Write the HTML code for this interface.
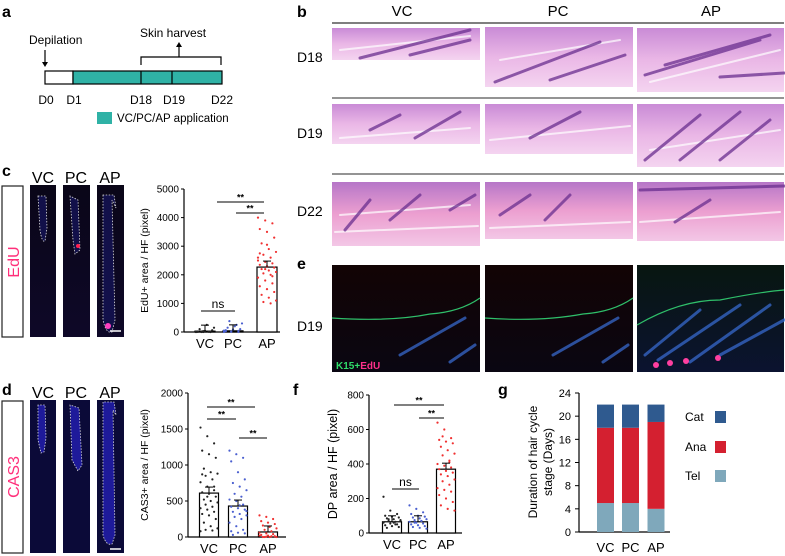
<!DOCTYPE html>
<html><head><meta charset="utf-8"><style>
body{margin:0;background:#fff;}
svg{display:block;font-family:"Liberation Sans",Arial,sans-serif;}
</style></head><body>
<svg id="fig" width="785" height="556" viewBox="0 0 785 556" xmlns="http://www.w3.org/2000/svg">
<defs>
<linearGradient id="he1" x1="0" y1="0" x2="0" y2="1"><stop offset="0" stop-color="#c98bd6"/><stop offset="0.5" stop-color="#eab7e6"/><stop offset="1" stop-color="#f4d4f0"/></linearGradient>
<linearGradient id="he3" x1="0" y1="0" x2="0" y2="1"><stop offset="0" stop-color="#b676c8"/><stop offset="0.5" stop-color="#ec9fd0"/><stop offset="1" stop-color="#f3c7e6"/></linearGradient>
<linearGradient id="fl" x1="0" y1="0" x2="0" y2="1"><stop offset="0" stop-color="#120404"/><stop offset="1" stop-color="#0a0612"/></linearGradient>
<linearGradient id="fl2" x1="0" y1="0" x2="0" y2="1"><stop offset="0" stop-color="#081610"/><stop offset="1" stop-color="#0b1330"/></linearGradient>
<linearGradient id="micro" x1="0" y1="0" x2="0" y2="1"><stop offset="0" stop-color="#0a0618"/><stop offset="1" stop-color="#0e0828"/></linearGradient>
</defs>

<!-- panel a -->
<g>
<text x="2" y="17" font-size="16" font-weight="bold">a</text>
<text x="29" y="44" font-size="12">Depilation</text>
<line x1="45" y1="50" x2="45" y2="64" stroke="#000" stroke-width="1.2"/>
<polygon points="42,62 48,62 45,67" fill="#000"/>
<text x="140" y="37" font-size="12">Skin harvest</text>
<polyline points="141,65 141,57 221,57 221,65" fill="none" stroke="#000" stroke-width="1.2"/>
<line x1="179" y1="57" x2="179" y2="46" stroke="#000" stroke-width="1.2"/>
<polygon points="176,47 182,47 179,42" fill="#000"/>
<rect x="45" y="71" width="28" height="13" fill="#fff" stroke="#000" stroke-width="1.2"/>
<rect x="73" y="71" width="149" height="13" fill="#2fb2a6" stroke="#000" stroke-width="1.2"/>
<line x1="141" y1="71" x2="141" y2="84" stroke="#000" stroke-width="1.2"/>
<line x1="172" y1="71" x2="172" y2="84" stroke="#000" stroke-width="1.2"/>
<g font-size="12" text-anchor="middle">
<text x="46" y="104">D0</text><text x="74" y="104">D1</text><text x="141" y="104">D18</text><text x="174" y="104">D19</text><text x="222" y="104">D22</text>
</g>
<rect x="97" y="112" width="15" height="12" fill="#2fb2a6"/>
<text x="117" y="122" font-size="11.5">VC/PC/AP application</text>
</g>

<!-- panel b -->
<g>
<text x="297" y="17" font-size="16" font-weight="bold">b</text>
<g font-size="15" text-anchor="middle"><text x="402" y="16">VC</text><text x="558" y="16">PC</text><text x="711" y="16">AP</text></g>
<line x1="332" y1="23" x2="784" y2="23" stroke="#333" stroke-width="1.2"/>
<line x1="332" y1="98" x2="784" y2="98" stroke="#555" stroke-width="1.2"/>
<line x1="332" y1="174" x2="784" y2="174" stroke="#555" stroke-width="1.2"/>
<g font-size="14"><text x="297" y="62">D18</text><text x="297" y="138">D19</text><text x="297" y="216">D22</text></g>
<rect x="332" y="28" width="148" height="32" fill="url(#he1)"/>
<rect x="485" y="27" width="148" height="60" fill="url(#he1)"/>
<rect x="637" y="28" width="147" height="64" fill="url(#he1)"/>
<rect x="332" y="104" width="148" height="40" fill="url(#he1)"/>
<rect x="485" y="104" width="148" height="50" fill="url(#he1)"/>
<rect x="637" y="104" width="147" height="63" fill="url(#he1)"/>
<rect x="332" y="182" width="148" height="64" fill="url(#he3)"/>
<rect x="485" y="182" width="148" height="57" fill="url(#he3)"/>
<rect x="637" y="182" width="147" height="59" fill="url(#he3)"/>
<g stroke="#fff" stroke-width="2" stroke-linecap="round" opacity="0.7">
<line x1="340" y1="50" x2="470" y2="36"/><line x1="500" y1="60" x2="620" y2="40"/><line x1="650" y1="82" x2="780" y2="50"/>
<line x1="340" y1="138" x2="470" y2="128"/><line x1="490" y1="140" x2="630" y2="126"/><line x1="650" y1="150" x2="780" y2="130"/>
<line x1="335" y1="232" x2="478" y2="226"/><line x1="340" y1="215" x2="470" y2="205"/><line x1="490" y1="228" x2="630" y2="222"/><line x1="640" y1="222" x2="780" y2="212"/>
</g>
<g stroke="#6a2f8f" stroke-width="3" stroke-linecap="round" opacity="0.75">
<line x1="360" y1="58" x2="470" y2="30"/><line x1="410" y1="55" x2="470" y2="40"/>
<line x1="495" y1="82" x2="600" y2="42"/><line x1="550" y1="80" x2="625" y2="55"/>
<line x1="645" y1="75" x2="760" y2="40"/><line x1="665" y1="65" x2="770" y2="35"/><line x1="720" y1="77" x2="784" y2="73"/>
<line x1="370" y1="130" x2="400" y2="115"/><line x1="415" y1="138" x2="460" y2="112"/>
<line x1="530" y1="138" x2="580" y2="112"/>
<line x1="645" y1="160" x2="700" y2="115"/><line x1="680" y1="160" x2="740" y2="112"/><line x1="720" y1="160" x2="770" y2="120"/>
<line x1="345" y1="230" x2="370" y2="200"/><line x1="390" y1="220" x2="420" y2="195"/><line x1="450" y1="210" x2="475" y2="195"/>
<line x1="500" y1="215" x2="530" y2="195"/><line x1="545" y1="220" x2="570" y2="195"/>
<line x1="675" y1="222" x2="710" y2="200"/><line x1="640" y1="190" x2="784" y2="186"/>
</g>
</g>

<!-- panel e -->
<g>
<text x="297" y="269" font-size="16" font-weight="bold">e</text>
<text x="297" y="331" font-size="14">D19</text>
<rect x="332" y="265" width="148" height="107" fill="url(#fl)"/>
<rect x="485" y="265" width="148" height="107" fill="url(#fl)"/>
<rect x="637" y="265" width="147" height="107" fill="url(#fl2)"/>
<g fill="none" stroke="#2fbf6a" stroke-width="1.2">
<path d="M332,318 Q390,322 430,314 Q460,312 480,298"/>
<path d="M485,318 Q540,322 583,314 Q613,312 633,298"/>
<path d="M637,325 Q680,300 720,300 Q760,292 784,290"/>
</g>
<g stroke="#3a6fd8" stroke-width="3" stroke-linecap="round" opacity="0.7">
<line x1="400" y1="355" x2="465" y2="318"/><line x1="450" y1="362" x2="475" y2="345"/>
<line x1="553" y1="355" x2="618" y2="318"/><line x1="603" y1="362" x2="628" y2="345"/>
<line x1="645" y1="355" x2="700" y2="310"/><line x1="658" y1="360" x2="740" y2="305"/><line x1="690" y1="362" x2="770" y2="305"/><line x1="720" y1="355" x2="784" y2="320"/>
</g>
<g fill="#ff3fa0"><circle cx="656" cy="365" r="3"/><circle cx="670" cy="363" r="3"/><circle cx="686" cy="361" r="3"/><circle cx="718" cy="358" r="3"/></g>
<text x="336" y="369" font-size="10" font-weight="bold" fill="#2fdc6a">K15+<tspan fill="#ff2f8a">EdU</tspan></text>
</g>

<!-- panel c/d microscopy -->
<g>
<text x="2" y="176" font-size="16" font-weight="bold">c</text>
<g font-size="16" text-anchor="middle"><text x="43" y="183">VC</text><text x="76" y="183">PC</text><text x="110" y="183">AP</text></g>
<rect x="2" y="186" width="21" height="151" fill="#fff" stroke="#222" stroke-width="1.2"/>
<text transform="translate(19,262) rotate(-90)" font-size="16" fill="#ff2f7a" text-anchor="middle">EdU</text>
<rect x="30" y="185" width="26" height="152" fill="url(#micro)"/>
<rect x="63" y="185" width="27" height="152" fill="url(#micro)"/>
<rect x="97" y="185" width="27" height="152" fill="url(#micro)"/>
<g fill="#12104a" stroke="#ddd" stroke-width="0.8" stroke-dasharray="1.5,1.5">
<path d="M38,196 L40,230 Q42,243 45,241 L47,228 L46,196 Z"/>
<path d="M70,196 L73,240 L75,254 L80,250 L78,200 Z"/>
<path d="M103,195 L103,320 Q106,334 112,332 L115,320 L112,200 L116,208 L114,195 Z"/>
</g>
<circle cx="78" cy="246" r="2" fill="#ff2050"/><circle cx="108" cy="326" r="3" fill="#ff40c0"/>
<line x1="110" y1="331" x2="121" y2="331" stroke="#fff" stroke-width="1.5"/>
</g>
<g>
<text x="2" y="395" font-size="16" font-weight="bold">d</text>
<g font-size="16" text-anchor="middle"><text x="43" y="398">VC</text><text x="76" y="398">PC</text><text x="110" y="398">AP</text></g>
<rect x="2" y="401" width="21" height="152" fill="#fff" stroke="#222" stroke-width="1.2"/>
<text transform="translate(19,477) rotate(-90)" font-size="16" fill="#ff2f7a" text-anchor="middle">CAS3</text>
<rect x="30" y="400" width="26" height="153" fill="#0b0a38"/>
<rect x="63" y="400" width="27" height="153" fill="#0b0a38"/>
<rect x="97" y="400" width="27" height="153" fill="#0b0a38"/>
<g fill="#1e1a9a" stroke="#ddd" stroke-width="0.8" stroke-dasharray="1.5,1.5">
<path d="M38,405 L38,440 L41,453 L44,452 L46,438 L45,405 Z"/>
<path d="M70,405 L72,460 L78,471 L82,465 L79,408 Z"/>
<path d="M103,402 L103,535 Q106,546 112,544 L115,535 L113,410 L116,415 L114,402 Z"/>
</g>
<line x1="110" y1="549" x2="121" y2="549" stroke="#fff" stroke-width="1.5"/>
</g>

<g id="charts"></g>
<text x="293" y="395" font-size="16" font-weight="bold">f</text>
<text x="498" y="395" font-size="16" font-weight="bold">g</text>
</svg>
<script>
// ---- data ----
const groups = ["VC","PC","AP"];
const edMeans = [30, 40, 2270];
const edVC = [0,0,0,20,40,60,100,250,150,0,10,0,30,0,5];
const edPC = [0,20,40,60,80,100,150,200,300,380,250,50,10,0,30,90];
const edAP = [4000,3900,3800,3600,3500,3300,3100,2900,2800,2700,2600,2500,2450,2400,2350,2300,2250,2200,2150,2100,2050,2000,1900,1800,1700,1600,1500,1400,1300,1200,1100,1050,1000,2600,2200,1950,2750,3050];
const edTicks = [0,1000,2000,3000,4000,5000];
const casMeans = [610, 430, 70];
const casVC = [1520,1400,1300,1200,1150,1100,950,900,880,850,800,760,700,650,620,600,560,520,500,480,450,420,400,380,350,320,300,250,200,150,120,100,90,80,560,700,870];
const casPC = [1200,1150,1100,1050,900,800,750,700,650,600,560,520,500,450,420,400,380,350,320,300,280,250,200,150,100,80,60,50,30,440,360];
const casAP = [300,280,250,220,200,180,160,140,120,100,80,60,50,40,30,20,10,0,0,0,0,10,20,5];
const casTicks = [0,500,1000,1500,2000];
const dpMeans = [65, 65, 370];
const dpVC = [210,130,110,100,95,90,85,80,75,70,65,60,55,50,45,40,35,30,60,70,80,50];
const dpPC = [160,140,120,110,100,95,90,85,80,75,70,65,60,55,50,45,40,35,30,25,60,70];
const dpAP = [640,600,550,540,530,520,500,480,460,450,420,400,390,380,370,360,350,340,330,310,300,280,260,250,240,220,200,180,160,140,130,560,410];
const dpTicks = [0,200,400,600,800];
const telVals = [5,5,4];
const anaVals = [13,13,15];
const catVals = [4,4,3];
const gTicks = [0,4,8,12,16,20,24];

const NS="http://www.w3.org/2000/svg";
const root=document.getElementById('charts');
function el(tag,attrs,parent){const e=document.createElementNS(NS,tag);for(const k in attrs)e.setAttribute(k,attrs[k]);(parent||root).appendChild(e);return e;}

function dotChart(cfg){
  const g=el('g',{});
  
  
  const y=v=>cfg.y0-(v/cfg.max)*(cfg.y0-cfg.yTop);
  el('line',{x1:cfg.ax,y1:cfg.yTop,x2:cfg.ax,y2:cfg.y0,stroke:'#000','stroke-width':1.2},g);
  el('line',{x1:cfg.ax,y1:cfg.y0,x2:cfg.xEnd,y2:cfg.y0,stroke:'#000','stroke-width':1.2},g);
  cfg.ticks.forEach(t=>{
    el('line',{x1:cfg.ax-3,y1:y(t),x2:cfg.ax,y2:y(t),stroke:'#000','stroke-width':1},g);
    const tx=el('text',{x:cfg.ax-5,y:y(t)+3.5,'font-size':cfg.tf,'text-anchor':'end'},g);
    tx.textContent=t;
    
    
  });
  const at=el('text',{transform:`translate(${cfg.titleX},${(cfg.y0+cfg.yTop)/2}) rotate(-90)`,'font-size':cfg.titleF,'text-anchor':'middle'},g);
  at.textContent=cfg.title;
  
  
  cfg.means.forEach((m,i)=>{
    const cx=cfg.cx[i];
    const b=el('rect',{x:cx-cfg.bw/2,y:y(m),width:cfg.bw,height:cfg.y0-y(m),fill:'#fff',stroke:'#000','stroke-width':1.2},g);
    
    
    const pts=cfg.pts[i];
    pts.forEach((v,j)=>{
      const off=((j*37)%11-5)/5*(cfg.bw/2-1);
      const d=el('circle',{cx:cx+off,cy:y(v),r:1.1,fill:cfg.colors[i]},g);
      
      
    });
    el('line',{x1:cx-4,y1:y(m)-6,x2:cx+4,y2:y(m)-6,stroke:'#000','stroke-width':1},g);
    el('line',{x1:cx,y1:y(m),x2:cx,y2:y(m)-6,stroke:'#000','stroke-width':1},g);
    const xl=el('text',{x:cx,y:cfg.y0+16,'font-size':13,'text-anchor':'middle'},g);
    xl.textContent=groups[i];
    
    
  });
  cfg.sig.forEach(s=>{
    el('line',{x1:s[0],y1:s[2],x2:s[1],y2:s[2],stroke:'#000','stroke-width':1},g);
    const t=el('text',{x:(s[0]+s[1])/2,y:s[2]-(s[3]=='ns'?3:1.5),'font-size':s[3]=='ns'?12:9,'text-anchor':'middle','font-weight':s[3]=='ns'?'normal':'bold'},g);
    t.textContent=s[3];
    
    
  });
}
const cols=['#222','#4a5fd0','#f03030'];
dotChart({name:'chart-c-edu',ax:184,yTop:189,y0:332,xEnd:280,max:5000,ticks:edTicks,tf:10,title:'EdU+ area / HF (pixel)',titleX:148,titleF:10.5,
  means:edMeans,cx:[205,233,267],bw:20,pts:[edVC,edPC,edAP],colors:cols,
  sig:[[217,264,202,'**'],[236,264,213,'**'],[201,235,311,'ns']]});
dotChart({name:'chart-d-cas3',ax:188,yTop:393,y0:537,xEnd:286,max:2000,ticks:casTicks,tf:10,title:'CAS3+ area / HF (pixel)',titleX:148,titleF:10.5,
  means:casMeans,cx:[209,238,268],bw:19,pts:[casVC,casPC,casAP],colors:cols,
  sig:[[207,255,407,'**'],[207,236,419,'**'],[239,267,438,'**']]});
dotChart({name:'chart-f-dp',ax:369,yTop:395,y0:533,xEnd:462,max:800,ticks:dpTicks,tf:10,title:'DP area / HF (pixel)',titleX:337,titleF:12.5,
  means:dpMeans,cx:[392,418,446],bw:19,pts:[dpVC,dpPC,dpAP],colors:cols,
  sig:[[394,444,405,'**'],[419,444,418,'**'],[392,419,489,'ns']]});

// panel g stacked bars
(function(){
  const g=el('g',{});
  
  
  const ax=579,y0=532,yTop=393,max=24;
  const y=v=>y0-(v/max)*(y0-yTop);
  el('line',{x1:ax,y1:yTop,x2:ax,y2:y0,stroke:'#000','stroke-width':1.2},g);
  el('line',{x1:ax,y1:y0,x2:670,y2:y0,stroke:'#000','stroke-width':1.2},g);
  gTicks.forEach(t=>{
    el('line',{x1:ax-4,y1:y(t),x2:ax,y2:y(t),stroke:'#000','stroke-width':1},g);
    const tx=el('text',{x:ax-8,y:y(t)+4,'font-size':11,'text-anchor':'end'},g);
    tx.textContent=t;
    
    
  });
  const t1=el('text',{transform:`translate(537,462) rotate(-90)`,'font-size':12,'text-anchor':'middle'},g);t1.textContent='Duration of hair  cycle';
  
  
  const t2=el('text',{transform:`translate(552,462) rotate(-90)`,'font-size':12,'text-anchor':'middle'},g);t2.textContent='stage (Days)';
  
  
  const cxs=[605.5,630.5,656],bw=17;
  const series=[[telVals,'#7fa8bb','tel'],[anaVals,'#d42030','ana'],[catVals,'#2f5a8f','cat']];
  groups.forEach((gr,i)=>{
    let base=0;
    series.forEach(s=>{
      const v=s[0][i];
      const r=el('rect',{x:cxs[i]-bw/2,y:y(base+v),width:bw,height:y(base)-y(base+v),fill:s[1]},g);
      
      
      base+=v;
    });
    const xl=el('text',{x:cxs[i],y:y0+20,'font-size':13,'text-anchor':'middle'},g);
    xl.textContent=gr;
    
    
  });
  [['Cat','#2f5a8f',417],['Ana','#d42030',447],['Tel','#7fa8bb',476]].forEach(l=>{
    const t=el('text',{x:685,y:l[2]+4,'font-size':12},g);t.textContent=l[0];
    
    
    el('rect',{x:715,y:l[2]-6,width:11,height:12,fill:l[1]},g);
  });
})();
</script>
</body></html>
